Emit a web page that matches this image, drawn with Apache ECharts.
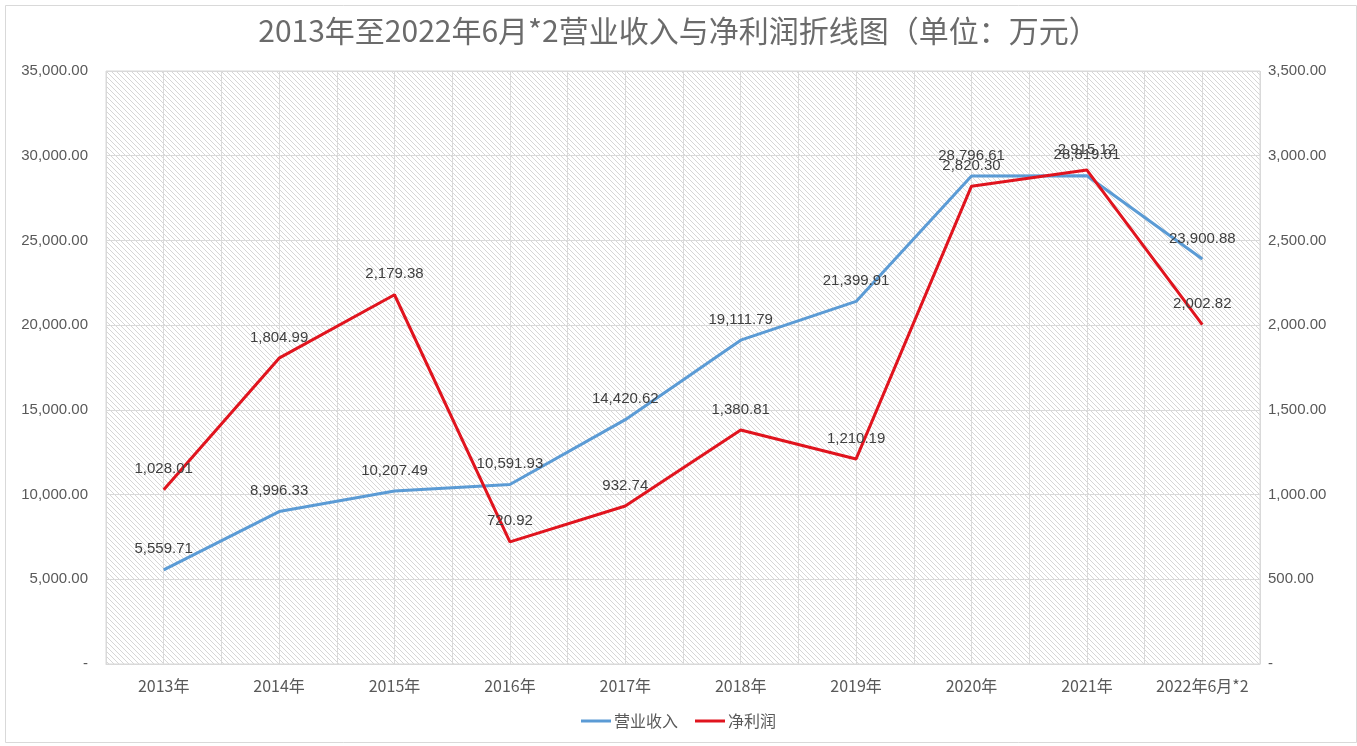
<!DOCTYPE html>
<html>
<head>
<meta charset="utf-8">
<script src="https://cdn.jsdelivr.net/npm/echarts@6/dist/echarts.min.js"></script>
<style>html,body{margin:0;padding:0;background:#fff}#c{width:1357px;height:746px}</style>
</head>
<body>
<div id="c"></div>
<script>
var categories = ['2013年','2014年','2015年','2016年','2017年','2018年','2019年','2020年','2021年','2022年6月*2'];
var revenue = [5559.71, 8996.33, 10207.49, 10591.93, 14420.62, 19111.79, 21399.91, 28796.61, 28819.01, 23900.88];
var profit = [1028.01, 1804.99, 2179.38, 720.92, 932.74, 1380.81, 1210.19, 2820.30, 2915.12, 2002.82];
var halfSlots = [];
for (var i = 0; i < categories.length * 2; i++) halfSlots.push(String(i));

function fmt(v) {
  if (v === 0) return '-';
  return Number(v).toLocaleString('en-US', {minimumFractionDigits: 2, maximumFractionDigits: 2});
}

// hatch pattern
var tile = document.createElement('canvas');
tile.width = 5; tile.height = 5;
var g = tile.getContext('2d');
g.fillStyle = '#ffffff'; g.fillRect(0, 0, 5, 5);
g.fillStyle = '#d6d6d6';
for (var k = 0; k < 5; k++) g.fillRect(k, k, 1, 1);

var FONT = '"Noto Sans CJK SC", "Liberation Sans", sans-serif';
var NUMFONT = '"Liberation Sans", sans-serif';
var chart = echarts.init(document.getElementById('c'));
chart.setOption({
  animation: false,
  backgroundColor: '#ffffff',
  textStyle: {fontFamily: FONT},
  title: {
    text: '2013年至2022年6月*2营业收入与净利润折线图（单位：万元）',
    left: 'center', top: 11,
    textStyle: {fontSize: 30, fontWeight: 'normal', color: '#6b6b6b', fontFamily: FONT}
  },
  graphic: [{
    type: 'rect', left: 3, top: 3, shape: {width: 1351, height: 737},
    style: {fill: 'none', stroke: '#d9d9d9', lineWidth: 1}, silent: true
  }],
  legend: {
    bottom: 12, left: 'center', itemWidth: 30, itemHeight: 3, itemGap: 17,
    icon: 'rect',
    textStyle: {fontSize: 16, color: '#595959', fontFamily: FONT, padding: [0, 0, 0, -2]},
    data: ['营业收入', '净利润']
  },
  grid: {
    left: 106, right: 97, top: 71, bottom: 82,
    show: true, borderColor: '#d9d9d9', borderWidth: 1,
    backgroundColor: {image: tile, repeat: 'repeat'}
  },
  xAxis: [{
    type: 'category', data: categories, boundaryGap: true,
    axisLine: {lineStyle: {color: '#d9d9d9'}},
    axisTick: {show: false},
    axisLabel: {fontSize: 16, color: '#595959', margin: 14, interval: 0, fontFamily: FONT},
    splitLine: {show: false}
  }, {
    type: 'category', data: halfSlots, boundaryGap: true, position: 'bottom',
    axisLine: {show: false}, axisTick: {show: false}, axisLabel: {show: false},
    splitLine: {show: true, interval: 0, lineStyle: {color: '#d9d9d9', width: 1}}
  }],
  yAxis: [{
    type: 'value', min: 0, max: 35000, interval: 5000,
    axisLine: {show: false}, axisTick: {show: false},
    axisLabel: {fontSize: 15, color: '#595959', margin: 18, formatter: fmt, fontFamily: NUMFONT},
    splitLine: {show: true, lineStyle: {color: '#d9d9d9', width: 1}}
  }, {
    type: 'value', min: 0, max: 3500, interval: 500, position: 'right',
    axisLine: {show: false}, axisTick: {show: false},
    axisLabel: {fontSize: 15, color: '#595959', margin: 8, formatter: fmt, fontFamily: NUMFONT},
    splitLine: {show: false}
  }],
  series: [{
    name: '营业收入', type: 'line', data: revenue, yAxisIndex: 0, xAxisIndex: 0,
    symbol: 'circle', symbolSize: 0, showSymbol: true,
    lineStyle: {color: '#5b9bd5', width: 3}, itemStyle: {color: '#5b9bd5'},
    label: {show: true, position: 'top', distance: 13, formatter: function(p){return fmt(p.value);},
      fontSize: 15, color: '#404040', fontFamily: NUMFONT},
    labelLayout: {hideOverlap: false},
    z: 3
  }, {
    name: '净利润', type: 'line', data: profit, yAxisIndex: 1, xAxisIndex: 0,
    symbol: 'circle', symbolSize: 0, showSymbol: true,
    lineStyle: {color: '#e0141e', width: 3}, itemStyle: {color: '#e0141e'},
    label: {show: true, position: 'top', distance: 13, formatter: function(p){return fmt(p.value);},
      fontSize: 15, color: '#404040', fontFamily: NUMFONT},
    labelLayout: {hideOverlap: false},
    z: 4
  }]
});
</script>
</body>
</html>
